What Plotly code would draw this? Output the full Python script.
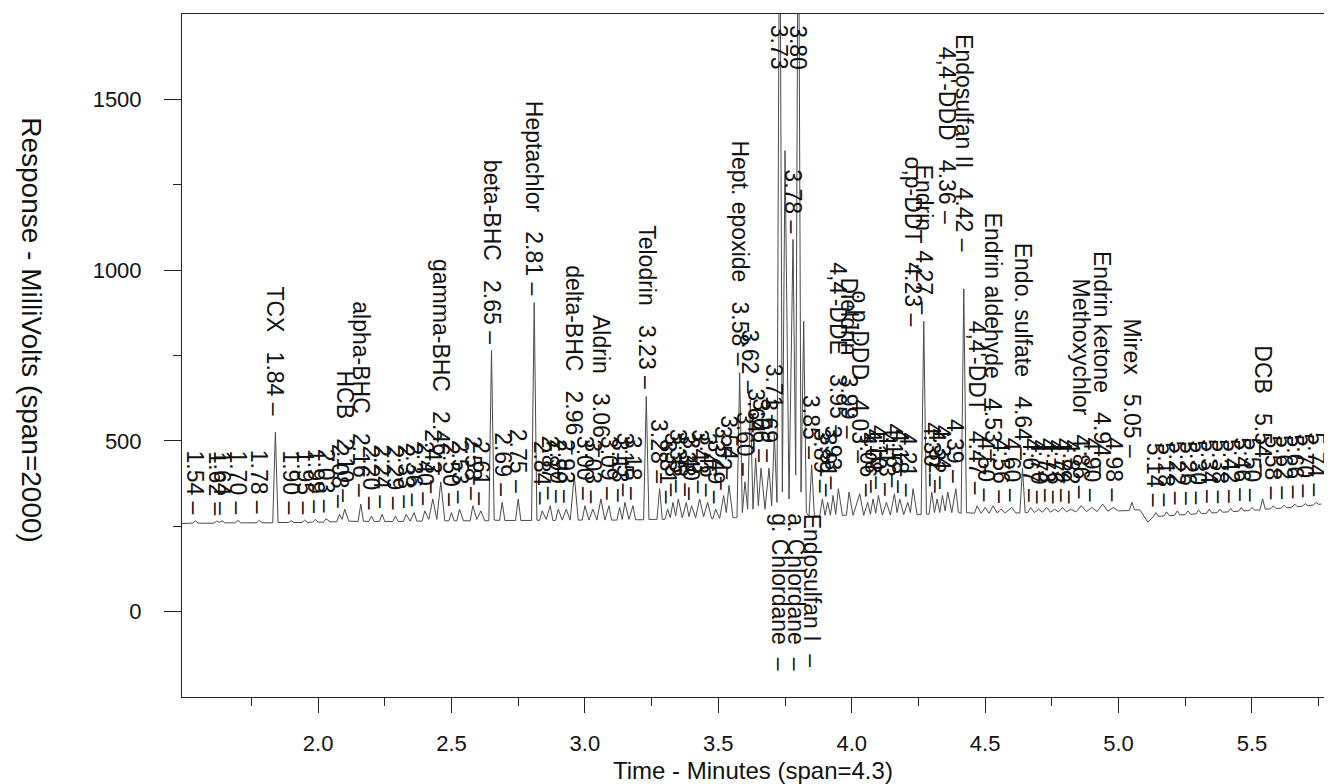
import plotly.graph_objects as go

# chromatogram trace: vertices (minutes, millivolts)
trace_min = [
    1.48, 1.53, 1.54, 1.55, 1.61, 1.62, 1.63, 1.64, 1.65, 1.69, 1.70, 1.71,
    1.77, 1.78, 1.79, 1.83, 1.84, 1.85, 1.89, 1.90, 1.91, 1.94, 1.95, 1.96,
    1.98, 1.99, 2.00, 2.02, 2.03, 2.045, 2.07, 2.08, 2.09, 2.10, 2.115,
    2.15, 2.16, 2.17, 2.19, 2.20, 2.21, 2.23, 2.24, 2.25, 2.28, 2.29, 2.30,
    2.32, 2.33, 2.345, 2.36, 2.37, 2.39, 2.40, 2.415, 2.43, 2.445, 2.46, 2.475,
    2.49, 2.50, 2.51, 2.52, 2.53, 2.545, 2.57, 2.58, 2.595, 2.61, 2.625,
    2.64, 2.65, 2.66, 2.68, 2.69, 2.70, 2.74, 2.75, 2.76, 2.80, 2.81, 2.82,
    2.83, 2.84, 2.855, 2.87, 2.88, 2.89, 2.90, 2.915, 2.93, 2.945, 2.96, 2.975,
    2.99, 3.00, 3.015, 3.03, 3.045, 3.06, 3.075, 3.09, 3.10,
    3.12, 3.13, 3.14, 3.15, 3.165, 3.18, 3.19, 3.22, 3.23, 3.24, 3.27, 3.28, 3.29,
    3.30, 3.31, 3.32, 3.33, 3.34, 3.35, 3.365, 3.38, 3.39, 3.40, 3.415, 3.43,
    3.445, 3.46, 3.475, 3.48, 3.49, 3.505, 3.52, 3.53, 3.54, 3.555,
    3.57, 3.58, 3.59, 3.60, 3.61, 3.62, 3.63, 3.64, 3.65, 3.66, 3.675, 3.69,
    3.70, 3.71, 3.72, 3.73, 3.74, 3.75, 3.765, 3.78, 3.79, 3.80, 3.81, 3.82, 3.83,
    3.84, 3.85, 3.86, 3.88, 3.89, 3.90, 3.91, 3.92, 3.93, 3.94, 3.95, 3.965,
    3.98, 3.99, 4.005, 4.03, 4.045, 4.06, 4.07, 4.08, 4.09, 4.10, 4.115, 4.13,
    4.145, 4.16, 4.17, 4.18, 4.195, 4.21, 4.22, 4.23, 4.245, 4.26, 4.27, 4.28,
    4.29, 4.30, 4.31, 4.32, 4.33, 4.34, 4.35, 4.36, 4.375, 4.39, 4.40,
    4.41, 4.42, 4.43, 4.46, 4.47, 4.485, 4.50, 4.515, 4.53, 4.545, 4.56, 4.575,
    4.60, 4.615, 4.63, 4.64, 4.65, 4.66, 4.67, 4.685, 4.70, 4.715, 4.73, 4.745,
    4.76, 4.775, 4.79, 4.805, 4.82, 4.84, 4.86, 4.88, 4.90, 4.92, 4.94, 4.96,
    4.98, 5.00, 5.04, 5.05, 5.06, 5.08, 5.11, 5.13, 5.14, 5.15, 5.17, 5.18, 5.19,
    5.21, 5.22, 5.23, 5.25, 5.26, 5.27, 5.29, 5.30, 5.31, 5.33, 5.34, 5.35,
    5.37, 5.38, 5.39, 5.41, 5.42, 5.43, 5.45, 5.46, 5.47, 5.49, 5.50, 5.51,
    5.53, 5.54, 5.55, 5.57, 5.58, 5.59, 5.61, 5.62, 5.63, 5.65, 5.66, 5.67,
    5.69, 5.70, 5.71, 5.73, 5.74, 5.75, 5.76,
]
trace_mv = [
    258, 259, 266, 259, 259, 265, 261, 266, 260, 260, 267, 260,
    260, 268, 260, 260, 525, 261, 261, 266, 261, 261, 268, 261,
    262, 270, 262, 262, 272, 263, 263, 285, 270, 300, 265,
    264, 315, 265, 264, 280, 264, 264, 285, 264, 264, 280, 264,
    264, 285, 265, 290, 265, 265, 295, 270, 330, 270, 380, 266,
    266, 290, 266, 266, 300, 266, 266, 310, 270, 295, 266,
    266, 765, 268, 267, 320, 267, 267, 330, 267, 267, 905, 268,
    267, 295, 270, 310, 267, 267, 300, 268, 300, 268, 400, 268,
    268, 310, 268, 300, 268, 330, 268, 310, 268,
    268, 305, 270, 320, 270, 310, 269, 269, 630, 270, 270, 360, 270,
    270, 300, 275, 320, 280, 330, 275, 320, 278, 310, 275, 330,
    278, 320, 272, 272, 300, 273, 340, 290, 370, 275,
    275, 700, 290, 380, 300, 620, 300, 450, 310, 420, 300, 420,
    310, 520, 320, 2300, 350, 1350, 330, 1090, 400, 2300, 350, 850, 290,
    280, 430, 280, 280, 330, 282, 320, 282, 340, 285, 360, 282,
    282, 350, 282, 345, 282, 320, 285, 330, 288, 340, 283, 320,
    283, 345, 290, 330, 284, 320, 290, 360, 284, 284, 850, 286,
    285, 350, 290, 330, 290, 340, 295, 350, 290, 360, 290,
    288, 945, 290, 288, 310, 288, 305, 288, 310, 289, 300, 289,
    305, 289, 289, 420, 290, 290, 305, 290, 300, 291, 305, 291,
    300, 292, 305, 292, 300, 292, 310, 293, 305, 293, 315, 294,
    305, 295, 296, 320, 298, 298, 262, 278, 290, 279, 280, 292, 281,
    282, 295, 283, 284, 295, 285, 286, 298, 287, 288, 300, 289,
    290, 300, 291, 292, 302, 293, 294, 305, 295, 296, 305, 297,
    298, 330, 300, 301, 310, 302, 303, 312, 304, 306, 315, 307,
    309, 316, 310, 312, 320, 314, 315,
]

# identified compounds and their retention times
named_rt = [1.84, 2.10, 2.16, 2.46, 2.65, 2.81, 2.96, 3.06, 3.23, 3.58,
            3.95, 3.99, 4.03, 4.23, 4.27, 4.36, 4.42, 4.47, 4.53, 4.64,
            4.86, 4.94, 5.05, 5.54]
named_compound = ["TCX", "HCB", "alpha-BHC", "gamma-BHC", "beta-BHC",
                  "Heptachlor", "delta-BHC", "Aldrin", "Telodrin",
                  "Hept. epoxide", "4,4'-DDE", "Dieldrin", "o,p-DDD",
                  "o,p-DDT", "Endrin", "4,4'-DDD", "Endosulfan II",
                  "4,4'-DDT", "Endrin aldehyde", "Endo. sulfate",
                  "Methoxychlor", "Endrin ketone", "Mirex", "DCB"]
# how far (px) the printer pushed each name label up to dodge others
named_lift = [10, 0, 0, 0, 0, 0, 14, 35, 0, 0,
              43, 47, 23, 155, 0, 261, 30, 4, 36, 0,
              0, 21, 37, 15]

# unnamed peaks that only carry a retention time
minor_rt = [1.54, 1.62, 1.64, 1.70, 1.78, 1.90, 1.95, 1.99, 2.03, 2.08,
            2.20, 2.24, 2.29, 2.33, 2.36, 2.40, 2.43, 2.50, 2.53, 2.58,
            2.61, 2.69, 2.75, 2.84, 2.87, 2.90, 2.93, 3.00, 3.03, 3.09,
            3.13, 3.15, 3.18, 3.28, 3.31, 3.33, 3.35, 3.38, 3.40, 3.43,
            3.46, 3.49, 3.52, 3.54, 3.60, 3.62, 3.64, 3.66, 3.69, 3.71,
            3.78, 3.85, 3.89, 3.91, 3.93, 4.06, 4.08, 4.10, 4.13,
            4.16, 4.18, 4.21, 4.30, 4.32, 4.34, 4.39, 4.50, 4.56, 4.60,
            4.67, 4.70, 4.73, 4.76, 4.79, 4.82, 4.90, 4.98, 5.14, 5.18,
            5.22, 5.26, 5.30, 5.34, 5.38, 5.42, 5.46, 5.50, 5.58, 5.62,
            5.66, 5.70, 5.74]

# off-scale peaks: times printed at the top, names printed under the baseline
offscale_rt = [3.73, 3.80]
under_rt = 3.73
under_compound = ["g. Chlordane", "a. Chlordane", "Endosulfan I"]

x_ticks = [2.0, 2.5, 3.0, 3.5, 4.0, 4.5, 5.0, 5.5]
x_minor = [1.75, 2.25, 2.75, 3.25, 3.75, 4.25, 4.75, 5.25, 5.75]
y_ticks = [0, 500, 1000, 1500]
y_minor = [250, 750, 1250]

FONT = "Liberation Sans, Arial, sans-serif"
INK = "#111111"

apex = dict(zip(trace_min, trace_mv))

fig = go.Figure()

fig.add_trace(
    go.Scatter(
        x=trace_min,
        y=trace_mv,
        mode="lines",
        line=dict(color="#4a4a4a", width=1),
        hoverinfo="x+y",
        showlegend=False,
    )
)

notes = []

# peak labels read top to bottom and end with a dash just over the apex
for rt, name, lift in zip(named_rt, named_compound, named_lift):
    notes.append(dict(
        x=rt, y=apex[rt], text=f"{name}   {rt:.2f} –",
        yshift=6 + lift,
    ))
for rt in minor_rt:
    notes.append(dict(x=rt, y=apex[rt], text=f"{rt:.2f} –", yshift=5))

for n in notes:
    n.update(xref="x", yref="y", textangle=90, showarrow=False,
             xanchor="center", yanchor="bottom", borderpad=0,
             font=dict(family=FONT, size=23, color=INK))

for rt in offscale_rt:
    notes.append(dict(
        x=rt, y=1750, xref="x", yref="y", text=f"{rt:.2f}", textangle=90,
        showarrow=False, xanchor="center", yanchor="top", yshift=-10,
        borderpad=0, font=dict(family=FONT, size=23, color=INK),
    ))

for i, name in enumerate(under_compound):
    notes.append(dict(
        x=under_rt, y=apex[3.72], xref="x", yref="y", text=f"{name}  –",
        textangle=90, showarrow=False, xanchor="center", yanchor="top",
        xshift=16 * i, yshift=-10, borderpad=0,
        font=dict(family=FONT, size=23, color=INK),
    ))

# axis titles
notes.append(dict(
    x=0.5, y=0, xref="paper", yref="paper", text="Time - Minutes (span=4.3)",
    showarrow=False, xanchor="center", yanchor="middle", yshift=-73,
    font=dict(family=FONT, size=24, color=INK),
))
notes.append(dict(
    x=0, y=0.537, xref="paper", yref="paper",
    text="Response - MilliVolts (span=2000)", textangle=90,
    showarrow=False, xanchor="center", yanchor="middle", xshift=-150,
    font=dict(family=FONT, size=28, color=INK),
))

fig.update_layout(
    width=1332,
    height=784,
    margin=dict(l=174, r=16, t=6, b=95),
    paper_bgcolor="white",
    plot_bgcolor="white",
    annotations=notes,
    font=dict(family=FONT, color=INK),
)

fig.update_xaxes(
    range=[1.49, 5.77],
    tickvals=x_ticks,
    ticktext=[f"{v:.1f}" for v in x_ticks],
    ticks="outside", ticklen=15, tickwidth=1, tickcolor="#222",
    ticklabelstandoff=12,
    minor=dict(tickvals=x_minor, ticks="outside", ticklen=8,
               tickcolor="#222", showgrid=False),
    tickfont=dict(family=FONT, size=22, color=INK),
    showline=True, linecolor="#222", linewidth=1, mirror=True,
    showgrid=False, zeroline=False,
)
fig.update_yaxes(
    range=[-250, 1750],
    tickvals=y_ticks,
    ticks="outside", ticklen=17, tickwidth=1, tickcolor="#222",
    ticklabelstandoff=18,
    minor=dict(tickvals=y_minor, ticks="outside", ticklen=8,
               tickcolor="#222", showgrid=False),
    tickfont=dict(family=FONT, size=22, color=INK),
    showline=True, linecolor="#222", linewidth=1, mirror=True,
    showgrid=False, zeroline=False,
)

fig.write_html("out.html")
